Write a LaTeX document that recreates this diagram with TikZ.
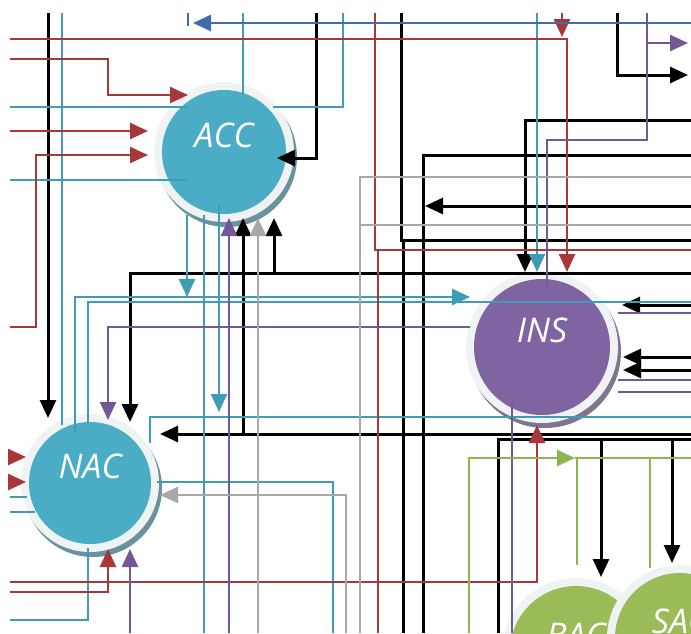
\documentclass[tikz,border=0pt]{standalone}
\usepackage{fontspec}
\newfontfamily\areafont{Open Sans}
\usetikzlibrary{arrows.meta,calc}

\definecolor{colTealFill}{RGB}{75,172,198}
\definecolor{colPurpleFill}{RGB}{128,100,162}
\definecolor{colGreenFill}{RGB}{155,187,89}
\definecolor{colTeal}{RGB}{62,156,180}
\definecolor{colRed}{RGB}{166,56,58}
\definecolor{colPurple}{RGB}{115,88,152}
\definecolor{colGray}{RGB}{168,168,168}
\definecolor{colBlue}{RGB}{62,108,172}
\definecolor{colGreen}{RGB}{143,180,82}
\definecolor{colRing}{RGB}{240,243,243}

\tikzset{
  area/.style={circle,inner sep=0pt,outer sep=0pt},
  areatext/.style={font=\areafont\itshape\fontsize{34}{36}\selectfont,text=white,yshift=17pt},
  wire/.style={line width=2.6pt},
  blackwire/.style={wire,draw=black,line width=3pt},
  tealwire/.style={wire,draw=colTeal},
  redwire/.style={wire,draw=colRed},
  purplewire/.style={wire,draw=colPurple},
  graywire/.style={wire,draw=colGray},
  bluewire/.style={wire,draw=colBlue},
  greenwire/.style={wire,draw=colGreen},
  tipin/.style={-{Triangle[length=18pt,width=16pt]}},
}

\begin{document}
\begin{tikzpicture}[x=1pt,y=-1pt]
  \useasboundingbox (0,0) rectangle (691,633);
  \clip (0,0) rectangle (691,633);
  % areas
  \foreach \nm/\pos/\rad/\col in {ACC/{224,152}/62/colTealFill, NAC/{90,483}/61/colTealFill, INS/{542,347}/68/colPurpleFill, BAC/{576,652}/66/colGreenFill, SAC/{680,638}/65/colGreenFill} {
    \fill[\col!40!gray] ($(\pos)+(3,5)$) circle ({\rad pt+8pt});
    \fill[colRing] (\pos) circle ({\rad pt+8pt});
    \node[area,fill=\col,minimum size={2*\rad pt},label={[areatext]center:\nm}] (\nm) at (\pos) {};
  }
  % black
  \draw[blackwire,tipin] (48,13) -- ($(NAC)+(-42,-65)$);
  \draw[blackwire,tipin] (691,273) -| ($(NAC)+(40,-61)$);
  \draw[blackwire,tipin] (274,273) -- ($(ACC)+(50,66)$);
  \draw[blackwire,tipin] (316,13) |- ($(ACC)+(53,6)$);
  \draw[blackwire,tipin] (691,434) -- ($(NAC)+(70,-49)$);
  \draw[blackwire,tipin] (243,434) -- ($(ACC)+(19,66)$);
  \draw[blackwire] (401,13) |- (691,240);
  \draw[blackwire] (403,240) -- (403,633);
  \draw[blackwire] (691,155) -| (423,633);
  \draw[blackwire,tipin] (691,206) -- (425,206);
  \draw[blackwire,tipin] (691,120) -| ($(INS)+(-17,-75)$);
  \draw[blackwire,tipin] (617,13) |- (688,75);
  \draw[blackwire,tipin] (691,305) -- ($(INS)+(80,-42)$);
  \draw[blackwire,tipin] (691,357) -- ($(INS)+(81,10)$);
  \draw[blackwire,tipin] (691,370) -- ($(INS)+(81,23)$);
  \draw[blackwire] (691,439) -| (498,633);
  \draw[blackwire,tipin] (601,439) -- ($(BAC)+(25,-75)$);
  \draw[blackwire,tipin] (672,439) -- ($(SAC)+(-8,-75)$);
  % teal
  \draw[tealwire] (62,13) -- ($(NAC)+(-28,-58)$);
  \draw[tealwire] (243,13) -- ($(ACC)+(19,-57)$);
  \draw[tealwire] (343,13) |- ($(ACC)+(49,-45)$);
  \draw[tealwire] (10,107) -- ($(ACC)+(-37,-45)$);
  \draw[tealwire] (10,180) -- ($(ACC)+(-37,28)$);
  \draw[tealwire,tipin] ($(ACC)+(-37,63)$) -- (187,297);
  \draw[tealwire] ($(ACC)+(-20,63)$) -- (204,633);
  \draw[tealwire,tipin] ($(ACC)+(-5,53)$) -- (219,412);
  \draw[tealwire,tipin] ($(NAC)+(-15,-50)$) |- ($(INS)+(-72,-50)$);
  \draw[tealwire] ($(NAC)+(-2,-60)$) |- (691,302);
  \draw[tealwire,tipin] (537,13) -- ($(INS)+(-5,-75)$);
  \draw[tealwire] ($(NAC)+(60,-40)$) |- (691,417);
  \draw[tealwire] ($(NAC)+(67,-1)$) -| (333,633);
  \draw[tealwire] ($(NAC)+(-2,65)$) |- (10,620);
  \draw[tealwire] (10,497) -- ($(NAC)+(-63,14)$);
  \draw[tealwire] (10,512) -- ($(NAC)+(-55,29)$);
  % red
  \draw[redwire,tipin] (562,13) -- (562,37);
  \draw[redwire,tipin] (10,39) -| ($(INS)+(25,-75)$);
  \draw[redwire,tipin] (10,59) -| (108,95) -- ($(ACC)+(-36,-57)$);
  \draw[redwire,tipin] (10,131) -- ($(ACC)+(-76,-21)$);
  \draw[redwire,tipin] (10,327) -| (36,155) -- ($(ACC)+(-76,3)$);
  \draw[redwire] (375,13) |- (691,250);
  \draw[redwire] (378,250) -- (378,633);
  \draw[redwire,tipin] (10,582) -| ($(INS)+(-5,78)$);
  \draw[redwire,tipin] (10,592) -| ($(NAC)+(18,66)$);
  \draw[redwire,tipin] (10,457) -- ($(NAC)+(-64,-26)$);
  \draw[redwire,tipin] (10,482) -- ($(NAC)+(-64,-1)$);
  % purple
  \draw[purplewire,line width=1.8pt] (647,13) |- (547,140) -- ($(INS)+(5,-60)$);
  \draw[purplewire,tipin] (647,43) -- (688,43);
  \draw[purplewire,tipin] ($(INS)+(-72,-20)$) -| ($(NAC)+(18,-63)$);
  \draw[purplewire,tipin] (229,633) -- ($(ACC)+(5,66)$);
  \draw[purplewire,tipin] (130,633) -- ($(NAC)+(40,66)$);
  \draw[purplewire,line width=1.6pt] ($(INS)+(-30,56)$) -- (512,633);
  \draw[purplewire] ($(INS)+(76,-34)$) -- (691,313);
  \draw[purplewire] ($(INS)+(76,33)$) -- (691,380);
  \draw[purplewire] ($(INS)+(76,45)$) -- (691,392);
  % gray
  \draw[graywire,tipin] (258,633) -- ($(ACC)+(34,66)$);
  \draw[graywire,tipin] (346,633) |- ($(NAC)+(70,12)$);
  \draw[graywire] (691,177) -| (360,633);
  \draw[graywire] (360,225) -- (691,225);
  % blue
  \draw[bluewire,tipin] (691,23) -- (193,23);
  \draw[bluewire] (188,13) -- (188,26);
  % green
  \draw[greenwire,tipin] (469,633) |- (575,458);
  \draw[greenwire] (575,458) -- (691,458);
  \draw[greenwire] (577,458) -- ($(BAC)+(1,-87)$);
  \draw[greenwire] (650,458) -- ($(SAC)+(-30,-70)$);
\end{tikzpicture}
\end{document}
